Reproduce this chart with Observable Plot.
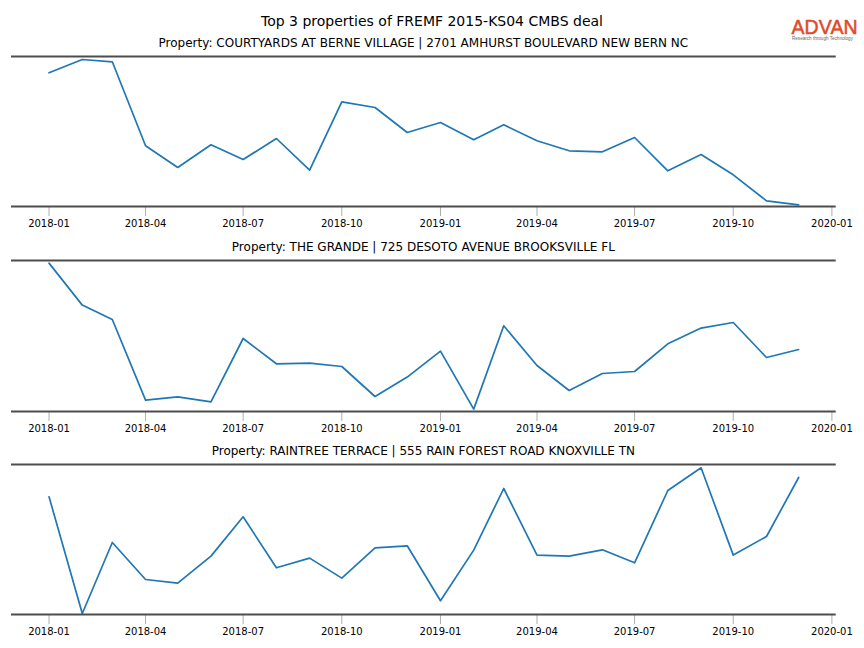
<!DOCTYPE html>
<html>
<head>
<meta charset="utf-8">
<script src="https://cdn.jsdelivr.net/npm/d3@7"></script>
<script src="https://cdn.jsdelivr.net/npm/@observablehq/plot@0.6"></script>
<style>
  html, body { margin: 0; padding: 0; background: #fff; }
  #root { position: relative; width: 864px; height: 648px; overflow: hidden; font-family: "DejaVu Sans", sans-serif; }
  .abs { position: absolute; white-space: nowrap; }
  .title { font-size: 14px; line-height: 14px; color: #000; text-align: center; }
  .sub { font-size: 12px; line-height: 12px; color: #000; text-align: center; }
  .logo { font-family: "Liberation Sans", Arial, sans-serif; color: #e04a28; font-size: 19.5px; line-height: 19px; letter-spacing: 0.1px; -webkit-text-stroke: 0.5px #e04a28; }
  .tag { font-family: "Liberation Sans", Arial, sans-serif; color: #666; font-size: 4.6px; line-height: 5px; }
</style>
</head>
<body>
<div id="root"></div>
<script>
// ---- data (relative index units, no y axis shown) ----
const months = ["2018-01","2018-02","2018-03","2018-04","2018-05","2018-06","2018-07","2018-08","2018-09","2018-10","2018-11","2018-12",
                "2019-01","2019-02","2019-03","2019-04","2019-05","2019-06","2019-07","2019-08","2019-09","2019-10","2019-11","2019-12"];
const xTickLabels = ["2018-01","2018-04","2018-07","2018-10","2019-01","2019-04","2019-07","2019-10","2020-01"];

const chartTitle = "Top 3 properties of FREMF 2015-KS04 CMBS deal";
const propertyTitles = [
  "Property: COURTYARDS AT BERNE VILLAGE | 2701 AMHURST BOULEVARD NEW BERN NC",
  "Property: THE GRANDE | 725 DESOTO AVENUE BROOKSVILLE FL",
  "Property: RAINTREE TERRACE | 555 RAIN FOREST ROAD KNOXVILLE TN"
];
const courtyardsValues = [133.7,147.0,144.7,60.7,39.0,61.7,47.0,68.0,36.4,104.7,99.0,74.0,
                          84.0,66.7,81.7,65.7,55.7,54.7,69.0,35.7,52.0,31.7,5.7,1.7];
const grandeValues     = [148.4,106.4,92.0,11.4,14.7,9.7,73.0,47.7,48.4,45.0,15.0,34.4,
                          60.4,2.4,85.7,46.0,21.0,38.0,40.0,67.7,83.4,89.0,54.0,62.0];
const raintreeValues   = [117.7,1.0,72.0,35.0,31.4,58.4,97.7,46.7,56.4,36.4,66.7,68.7,
                          13.7,64.4,126.0,59.4,58.4,64.7,51.7,124.0,146.7,59.4,78.0,137.0];
const yDomains = [[0,150],[0,151],[0,150]];
const seriesList = [courtyardsValues, grandeValues, raintreeValues];

// ---- layout ----
const root = document.getElementById("root");
const parse = d3.utcParse("%Y-%m");
const dates = months.map(parse);
const pad = 35; // matplotlib-like 5% margin in days
const xDomain = [d3.utcDay.offset(dates[0], -pad), d3.utcDay.offset(dates[dates.length-1], pad)];
const xTicks = xTickLabels.map(parse);

function addDiv(cls, text, css) {
  const d = document.createElement("div");
  d.className = "abs " + cls;
  d.textContent = text;
  Object.assign(d.style, css);
  root.appendChild(d);
  return d;
}

addDiv("title", chartTitle, {left: "0px", width: "864px", top: "14px"});
addDiv("logo", "ADVAN", {left: "791.5px", top: "17.5px"});
addDiv("tag", "Research through Technology", {left: "792px", top: "36px"});

const spineTops = [55.7, 259.7, 463.7];
const marginTop = 4, plotH = 150, marginBottom = 26;

seriesList.forEach((vals, i) => {
  const data = vals.map((v, j) => ({date: dates[j], value: v}));
  const [y0, y1] = yDomains[i];
  const h = i === 1 ? 151 : plotH;
  const svg = Plot.plot({
    width: 864,
    height: marginTop + h + marginBottom,
    marginLeft: 11,
    marginRight: 28.3,
    marginTop,
    marginBottom,
    style: {fontFamily: "DejaVu Sans, sans-serif", fontSize: "10px", color: "#000", background: "transparent"},
    x: {type: "utc", domain: xDomain},
    y: {domain: yDomains[i], axis: null},
    marks: [
      Plot.axisX({ticks: xTicks, tickFormat: d3.utcFormat("%Y-%m"), tickSize: 10, tickPadding: 3,
                  stroke: "#999", strokeWidth: 0.8, fill: "#000", fontSize: 10}),
      Plot.line(data, {x: "date", y: "value", stroke: "#1f77b4", strokeWidth: 1.7}),
      Plot.ruleY([y0, y1], {stroke: "#4d4d4d", strokeWidth: 2})
    ]
  });
  svg.style.position = "absolute";
  svg.style.left = "0px";
  svg.style.top = (spineTops[i] - marginTop) + "px";
  root.appendChild(svg);
  addDiv("sub", propertyTitles[i], {left: "11px", width: "824.7px", top: (spineTops[i] - 19.2) + "px"});
});
</script>
</body>
</html>
